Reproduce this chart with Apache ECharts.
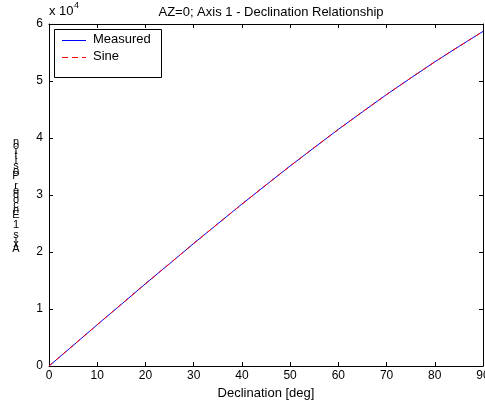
<!DOCTYPE html>
<html>
<head>
<meta charset="utf-8">
<script src="https://cdn.jsdelivr.net/npm/echarts@6/dist/echarts.min.js"></script>
<style>
  html, body { margin: 0; padding: 0; background: #fff; }
  #chart { width: 485px; height: 406px; }
</style>
</head>
<body>
<div id="chart"></div>
<script>
// Declination sweep (deg) and encoder counts for axis 1
var declination = [0, 5, 10, 15, 20, 25, 30, 35, 40, 45, 50, 55, 60, 65, 70, 75, 80, 85, 90];
var measured = [0, 3600, 7250, 10820, 14430, 17940, 21500, 24940, 28400, 31750, 35090, 38310, 41510, 44580, 47620, 50510, 53360, 56060, 58700];
var sine = [0, 3620, 7234, 10834, 14413, 17964, 21482, 24959, 28388, 31763, 35077, 38325, 41500, 44596, 47607, 50527, 53352, 56074, 58690];
var yTicks = [0, 1, 2, 3, 4, 5, 6];
var yLabel = 'Axis 1 Encoder Position';

var FONT = 'Liberation Sans, Arial, sans-serif';

function pairs(xs, ys) {
  return xs.map(function (x, i) { return [x, ys[i]]; });
}

function axisLine() { return { show: true, onZero: false, lineStyle: { color: '#000', width: 1 } }; }
function axisTick() { return { show: true, inside: true, length: 4, lineStyle: { color: '#000', width: 1 } }; }

// y-axis title: upright letters stacked bottom-to-top
var labelChars = yLabel.split('').reverse();
var labelGraphics = labelChars.map(function (ch, i) {
  return {
    type: 'text', x: 16, y: 136 + i * 4.9,
    style: { text: ch, font: '11px ' + FONT, fill: '#000', align: 'center', verticalAlign: 'top' }
  };
});

// legend sample for the dashed series, drawn as short solid segments
var dashSegs = [[62, 68], [72, 78], [82, 86]].map(function (s) {
  return { type: 'line', shape: { x1: s[0], y1: 57.5, x2: s[1], y2: 57.5 }, style: { stroke: '#ff0000', lineWidth: 1 }, z: 11 };
});

var chart = echarts.init(document.getElementById('chart'), null, { renderer: 'canvas' });

chart.setOption({
  backgroundColor: '#fff',
  animation: false,
  title: {
    text: 'AZ=0; Axis 1 - Declination Relationship',
    left: 266, top: 1, textAlign: 'center',
    textStyle: { fontFamily: FONT, fontSize: 13, fontWeight: 'normal', color: '#000' }
  },
  grid: { left: 49, right: 2, top: 24, bottom: 40, containLabel: false, outerBoundsMode: 'none' },
  xAxis: [{
    type: 'value', min: 0, max: 90, interval: 10, position: 'bottom',
    name: 'Declination [deg]', nameLocation: 'middle', nameGap: 21,
    nameTextStyle: { fontFamily: FONT, fontSize: 13, color: '#000' },
    axisLine: axisLine(), axisTick: axisTick(), splitLine: { show: false },
    axisLabel: { fontFamily: FONT, fontSize: 12, color: '#000', margin: 4 }
  }, {
    type: 'value', min: 0, max: 90, interval: 10, position: 'top',
    axisLine: axisLine(), axisTick: axisTick(), splitLine: { show: false },
    axisLabel: { show: false }
  }],
  yAxis: [{
    type: 'value', min: 0, max: 60000, interval: 10000, position: 'left',
    axisLine: axisLine(), axisTick: axisTick(), splitLine: { show: false },
    axisLabel: {
      fontFamily: FONT, fontSize: 12, color: '#000', margin: 6,
      formatter: function (v) { return String(yTicks[Math.round(v / 10000)]); }
    }
  }, {
    type: 'value', min: 0, max: 60000, interval: 10000, position: 'right',
    axisLine: axisLine(), axisTick: axisTick(), splitLine: { show: false },
    axisLabel: { show: false }
  }],
  series: [{
    name: 'Measured', type: 'line', data: pairs(declination, measured),
    xAxisIndex: 0, yAxisIndex: 0,
    showSymbol: false, smooth: false,
    lineStyle: { color: '#0000ff', width: 1 }
  }, {
    name: 'Sine', type: 'line', data: pairs(declination, sine),
    xAxisIndex: 0, yAxisIndex: 0,
    showSymbol: false, smooth: false,
    lineStyle: { color: '#ff0000', width: 1, type: [5, 4] }
  }],
  graphic: [
    // exponent marker
    { type: 'text', x: 49, y: 5, style: { text: 'x 10', font: '13px ' + FONT, fill: '#000', verticalAlign: 'top' } },
    { type: 'text', x: 74, y: 1, style: { text: '4', font: '9px ' + FONT, fill: '#000', verticalAlign: 'top' } },
    // legend box
    { type: 'rect', shape: { x: 54.5, y: 29.5, width: 107, height: 48 }, style: { fill: '#fff', stroke: '#000', lineWidth: 1 }, z: 10 },
    { type: 'line', shape: { x1: 62, y1: 40.5, x2: 86, y2: 40.5 }, style: { stroke: '#0000ff', lineWidth: 1 }, z: 11 },
    { type: 'text', x: 93, y: 33, style: { text: 'Measured', font: '13px ' + FONT, fill: '#000', verticalAlign: 'top' }, z: 11 },
    { type: 'text', x: 93, y: 50, style: { text: 'Sine', font: '13px ' + FONT, fill: '#000', verticalAlign: 'top' }, z: 11 }
  ].concat(dashSegs, labelGraphics)
});
</script>
</body>
</html>
